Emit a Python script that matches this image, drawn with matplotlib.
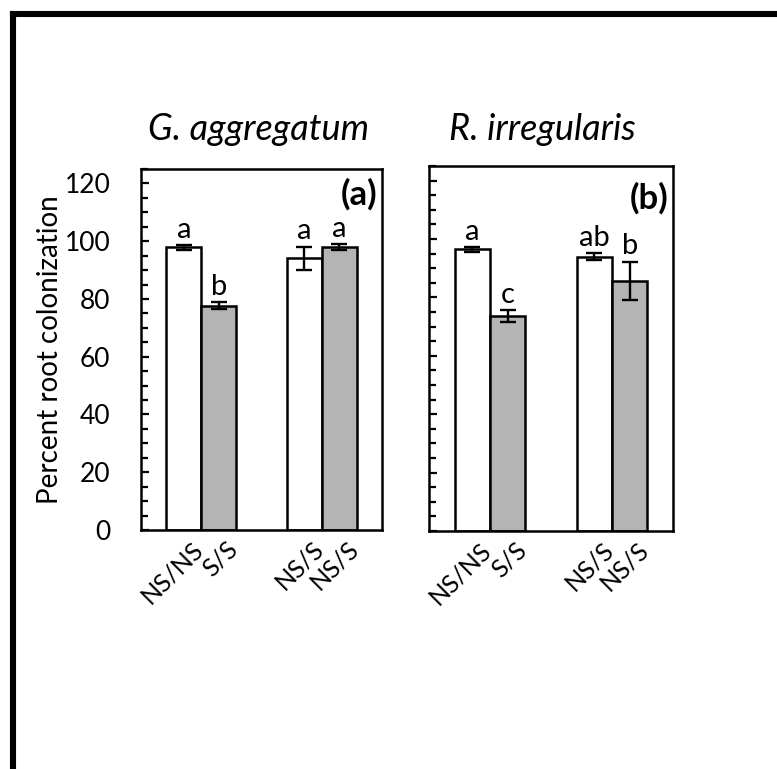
import matplotlib
matplotlib.use("Agg")
import matplotlib.pyplot as plt
from matplotlib.ticker import MultipleLocator
from matplotlib.lines import Line2D
from matplotlib.transforms import ScaledTranslation

plt.rcParams['font.family'] = ['Lato', 'DejaVu Sans']

# ---- data ----
categories = ["NS/NS", "S/S", "NS/S", "NS/S"]
titles = ["G. aggregatum", "R. irregularis"]
panel_tags = ["(a)", "(b)"]

ga_means = [97.9, 77.7, 94.1, 97.9]
ga_errs = [0.8, 1.2, 4.0, 1.0]
ga_letters = ["a", "b", "a", "a"]

ri_means = [96.5, 73.7, 93.9, 85.6]
ri_errs = [0.8, 2.0, 1.2, 6.6]
ri_letters = ["a", "c", "ab", "b"]

bar_colors = ["white", "#b4b4b4", "white", "#b4b4b4"]
group_of_bar = [0, 0, 1, 1]
offset_of_bar = [-0.5, 0.5, -0.5, 0.5]

W, H = 777, 769
fig = plt.figure(figsize=(W / 100, H / 100), dpi=100)

# frame lines (top and left border)
fig.add_artist(Line2D([13 / W, 1.0], [1 - 14 / H, 1 - 14 / H], color='black', lw=4.4,
                      transform=fig.transFigure, solid_capstyle='projecting'))
fig.add_artist(Line2D([13 / W, 13 / W], [0.0, 1 - 14 / H], color='black', lw=4.4,
                      transform=fig.transFigure, solid_capstyle='projecting'))

boxes = [
    [141 / W, 1 - 530 / H, 241 / W, 361 / H],
    [429 / W, 1 - 531 / H, 244 / W, 365 / H],
]
title_x = [258 / W, 542 / W]

bw = 0.29
datasets = [(ga_means, ga_errs, ga_letters), (ri_means, ri_errs, ri_letters)]

for i, (box, (means, errs, letters)) in enumerate(zip(boxes, datasets)):
    ax = fig.add_axes(box)
    xs = [g + o * bw for g, o in zip(group_of_bar, offset_of_bar)]
    ax.bar(xs, means, width=bw, color=bar_colors, edgecolor='black', linewidth=1.8, zorder=2)
    ax.errorbar(xs, means, yerr=errs, fmt='none', ecolor='black', elinewidth=1.7,
                capsize=5.5, capthick=1.7, zorder=3)
    for x, m, e, lab in zip(xs, means, errs, letters):
        ax.text(x, m + e + 0.8, lab, ha='center', va='bottom', fontsize=21)
    ax.set_xlim(-0.5, 1.5)
    ax.set_ylim(0, 125)
    ax.yaxis.set_major_locator(MultipleLocator(20))
    ax.yaxis.set_minor_locator(MultipleLocator(5))
    ax.tick_params(axis='y', which='major', direction='in', length=6, width=1.6,
                   labelsize=19, pad=22)
    ax.tick_params(axis='y', which='minor', direction='in', length=5, width=1.6)
    ax.set_xticks(xs)
    ax.set_xticklabels(categories, rotation=45, ha='right', rotation_mode='anchor', fontsize=18)
    ax.tick_params(axis='x', length=0, pad=5)
    shift = ScaledTranslation(7 / 100, 0, fig.dpi_scale_trans)
    for lbl in ax.get_xticklabels():
        lbl.set_transform(lbl.get_transform() + shift)
    for sp in ax.spines.values():
        sp.set_linewidth(1.8)
    if i == 0:
        ax.set_ylabel("Percent root colonization", fontsize=20, labelpad=1)
    else:
        ax.tick_params(axis='y', labelleft=False)
    ax.text(0.98, 0.975 if i == 0 else 0.955, panel_tags[i], transform=ax.transAxes,
            ha='right', va='top', fontsize=25, fontweight='bold')
    fig.text(title_x[i], 1 - 130 / H, titles[i], ha='center', va='center',
             fontsize=26, style='italic')

fig.savefig("out.png", dpi=100)
